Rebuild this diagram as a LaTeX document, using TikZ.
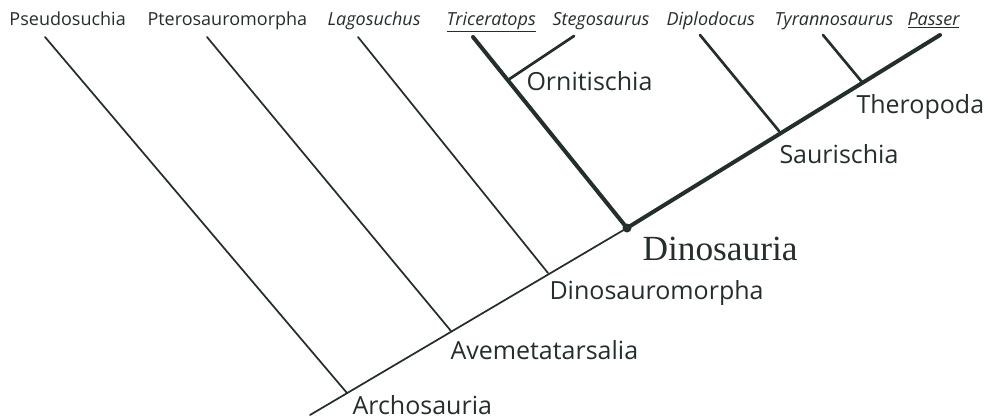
\documentclass[tikz,border=0pt]{standalone}
\usepackage{fontspec}
\setsansfont{Open Sans}
\newfontfamily\dinofont{Liberation Serif}
\definecolor{ink}{RGB}{36,46,42}
\tikzset{every picture/.style={line width=0.75pt}}
\tikzset{
  thin branch/.style={draw=ink, line width=1.3pt, line cap=round},
  mid branch/.style={draw=ink, line width=2pt, line cap=round},
  thick branch/.style={draw=ink, line width=3pt, line cap=round},
  taxon/.style={anchor=base west, inner sep=0pt, text=ink, font=\sffamily\fontsize{13.5}{16}\selectfont},
  clade/.style={anchor=base west, inner sep=0pt, text=ink, font=\sffamily\fontsize{18.75}{22}\selectfont},
}

\begin{document}
\begin{tikzpicture}[x=0.75pt,y=0.75pt,yscale=-1,xscale=1]
\useasboundingbox (0,0) rectangle (988,419);

%Coordinates [branch points]
\coordinate (root) at (310,415);
\coordinate (arch) at (347,393);
\coordinate (avem) at (451,331);
\coordinate (dmorph) at (548,273);
\coordinate (dino) at (627,228);
\coordinate (orni) at (508,80);
\coordinate (saur) at (779,131);
\coordinate (thero) at (862,82);
%Coordinates [branch tips]
\coordinate (pseudoTip) at (45,37);
\coordinate (pteroTip) at (207,37);
\coordinate (lagoTip) at (358,37);
\coordinate (triTip) at (473,37);
\coordinate (stegoTip) at (574,36);
\coordinate (diploTip) at (700,35);
\coordinate (tyraTip) at (823,35);
\coordinate (passerTip) at (940,35);

%Straight Lines [spine]
\draw [thin branch] (root) -- (dino);
\draw [thick branch] (dino) -- (passerTip);
%Straight Lines [side branches]
\draw [thin branch] (pseudoTip) -- (arch);
\draw [thin branch] (pteroTip) -- (avem);
\draw [thin branch] (lagoTip) -- (dmorph);
\draw [thick branch] (triTip) -- (dino);
\draw [mid branch] (stegoTip) -- (orni);
\draw [mid branch] (diploTip) -- (saur);
\draw [mid branch] (tyraTip) -- (thero);
%Shape: Circle [Dinosauria]
\fill [ink] (dino) circle (4.5);

% Text Node
\draw (9,25) node [taxon] (pseudo) {Pseudosuchia};
% Text Node
\draw (147,25) node [taxon] (ptero) {Pterosauromorpha};
% Text Node
\draw (327,25) node [taxon] (lago) {\itshape Lagosuchus};
% Text Node
\draw (446,25) node [taxon] (tri) {\itshape\underline{Triceratops}};
% Text Node
\draw (552,25) node [taxon] (stego) {\itshape Stegosaurus};
% Text Node
\draw (666,25) node [taxon] (diplo) {\itshape Diplodocus};
% Text Node
\draw (774,25) node [taxon] (tyra) {\itshape Tyrannosaurus};
% Text Node
\draw (907,25) node [taxon] (passer) {\itshape\underline{Passer}};
% Text Node
\draw (526,90) node [clade] (orniLabel) {Ornitischia};
% Text Node
\draw (856,113) node [clade] (theroLabel) {Theropoda};
% Text Node
\draw (779,163) node [clade] (saurLabel) {Saurischia};
% Text Node
\draw (642,260) node [anchor=base west, inner sep=0pt, text=ink, font=\dinofont\fontsize{26.5}{30}\selectfont] (dinoLabel) {Dinosauria};
% Text Node
\draw (549,299) node [clade] (dmorphLabel) {Dinosauromorpha};
% Text Node
\draw (450,359) node [clade] (avemLabel) {Avemetatarsalia};
% Text Node
\draw (352,414) node [clade] (archLabel) {Archosauria};

\end{tikzpicture}
\end{document}
